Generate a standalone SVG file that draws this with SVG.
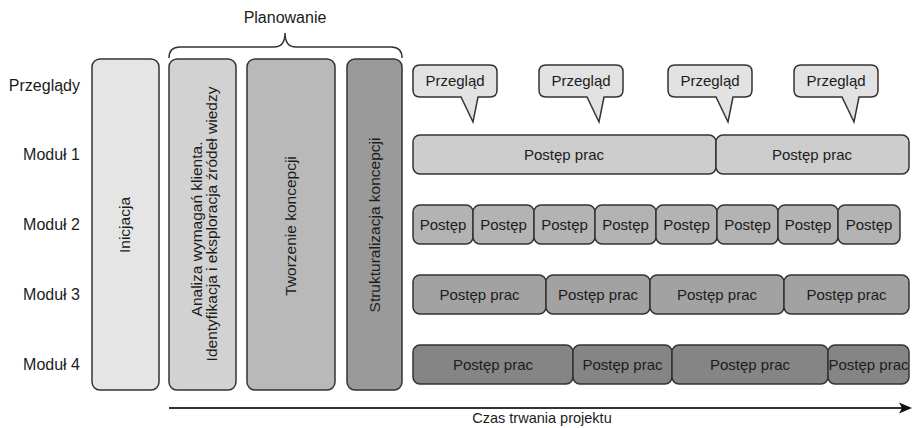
<svg xmlns="http://www.w3.org/2000/svg" width="912" height="428" viewBox="0 0 912 428">
<style>
text{font-family:"Liberation Sans",Arial,sans-serif;fill:#1c1c1c;font-size:15px}
.lbl{font-size:16px;text-anchor:end}
.c{text-anchor:middle}
.v{font-size:15.5px}
.box{stroke:#333;stroke-width:1.5}
.p0{fill:#e5e5e5}.p1{fill:#d2d2d2}.p2{fill:#b9b9b9}.p3{fill:#9a9a9a}
.bub{fill:#e2e2e2;stroke:#333;stroke-width:1.5}
.m1{fill:#cdcdcd}.m2{fill:#b3b3b3}.m3{fill:#a2a2a2}.m4{fill:#858585}
</style>
<defs>
<path id="bubble" d="M7,0 H77 Q84,0 84,7 V25 Q84,32 77,32 H65 L60,57 L48,32 H7 Q0,32 0,25 V7 Q0,0 7,0 Z"/>
</defs>

<g id="labels">
<text class="lbl" x="80" y="91">Przeglądy</text>
<text class="lbl" x="80" y="160">Moduł 1</text>
<text class="lbl" x="80" y="230">Moduł 2</text>
<text class="lbl" x="80" y="300">Moduł 3</text>
<text class="lbl" x="80" y="370">Moduł 4</text>
</g>

<g id="planowanie">
<path d="M169,58 Q169,47 180,47 H274 Q285,47 285,33 Q285,47 296,47 H391 Q402,47 402,58" fill="none" stroke="#333" stroke-width="1.5"/>
<text class="c" x="285" y="23" style="font-size:16px">Planowanie</text>
</g>

<g id="inicjacja">
<rect class="box p0" x="92" y="59" width="67" height="331" rx="8"/>
<text class="c v" transform="translate(130,225) rotate(-90)">Inicjacja</text>
</g>
<g id="analiza">
<rect class="box p1" x="169" y="59" width="67" height="331" rx="8"/>
<text class="c v" transform="translate(202,229) rotate(-90)">Analiza wymagań klienta.</text>
<text class="c v" transform="translate(217,224) rotate(-90)">Identyfikacja i eksploracja źródeł wiedzy</text>
</g>
<g id="tworzenie">
<rect class="box p2" x="247" y="59" width="88" height="331" rx="8"/>
<text class="c v" transform="translate(296,226) rotate(-90)">Tworzenie koncepcji</text>
</g>
<g id="strukturalizacja">
<rect class="box p3" x="347" y="59" width="55" height="331" rx="8"/>
<text class="c v" transform="translate(380,225) rotate(-90)">Strukturalizacja koncepcji</text>
</g>

<g id="przeglady">
<g id="przeglad1" transform="translate(413,65)"><use href="#bubble" class="bub"/><text class="c" x="42" y="21">Przegląd</text></g>
<g id="przeglad2" transform="translate(539,65)"><use href="#bubble" class="bub"/><text class="c" x="42" y="21">Przegląd</text></g>
<g id="przeglad3" transform="translate(668,65)"><use href="#bubble" class="bub"/><text class="c" x="42" y="21">Przegląd</text></g>
<g id="przeglad4" transform="translate(794,65)"><use href="#bubble" class="bub"/><text class="c" x="42" y="21">Przegląd</text></g>
</g>

<g id="modul1">
<rect class="box m1" x="413" y="135" width="303" height="39" rx="7"/>
<rect class="box m1" x="716" y="135" width="193" height="39" rx="7"/>
<text class="c" x="564" y="160">Postęp prac</text>
<text class="c" x="812" y="160">Postęp prac</text>
</g>

<g id="modul2">
<rect class="box m2" x="413" y="205" width="60" height="39" rx="7"/>
<rect class="box m2" x="473" y="205" width="61" height="39" rx="7"/>
<rect class="box m2" x="534" y="205" width="61" height="39" rx="7"/>
<rect class="box m2" x="595" y="205" width="61" height="39" rx="7"/>
<rect class="box m2" x="656" y="205" width="61" height="39" rx="7"/>
<rect class="box m2" x="717" y="205" width="61" height="39" rx="7"/>
<rect class="box m2" x="778" y="205" width="60" height="39" rx="7"/>
<rect class="box m2" x="838" y="205" width="62" height="39" rx="7"/>
<text class="c" x="443" y="230">Postęp</text>
<text class="c" x="503.5" y="230">Postęp</text>
<text class="c" x="564.5" y="230">Postęp</text>
<text class="c" x="625.5" y="230">Postęp</text>
<text class="c" x="686.5" y="230">Postęp</text>
<text class="c" x="747.5" y="230">Postęp</text>
<text class="c" x="808" y="230">Postęp</text>
<text class="c" x="869" y="230">Postęp</text>
</g>

<g id="modul3">
<rect class="box m3" x="413" y="275" width="133" height="39" rx="7"/>
<rect class="box m3" x="546" y="275" width="104" height="39" rx="7"/>
<rect class="box m3" x="650" y="275" width="134" height="39" rx="7"/>
<rect class="box m3" x="784" y="275" width="125" height="39" rx="7"/>
<text class="c" x="479.5" y="300">Postęp prac</text>
<text class="c" x="598" y="300">Postęp prac</text>
<text class="c" x="717" y="300">Postęp prac</text>
<text class="c" x="846.5" y="300">Postęp prac</text>
</g>

<g id="modul4">
<rect class="box m4" x="413" y="345" width="160" height="39" rx="7"/>
<rect class="box m4" x="573" y="345" width="99" height="39" rx="7"/>
<rect class="box m4" x="672" y="345" width="156" height="39" rx="7"/>
<rect class="box m4" x="828" y="345" width="81" height="39" rx="7"/>
<text class="c" x="493" y="370">Postęp prac</text>
<text class="c" x="622.5" y="370">Postęp prac</text>
<text class="c" x="750" y="370">Postęp prac</text>
<text class="c" x="868.5" y="370">Postęp prac</text>
</g>

<g id="connectors">
<line x1="169" y1="408" x2="902" y2="408" stroke="#333" stroke-width="2"/>
<polygon points="912,408 899,402.5 902,408 899,413.5" fill="#111"/>
<text class="c" x="542" y="423" style="font-size:14.5px">Czas trwania projektu</text>
</g>
</svg>
